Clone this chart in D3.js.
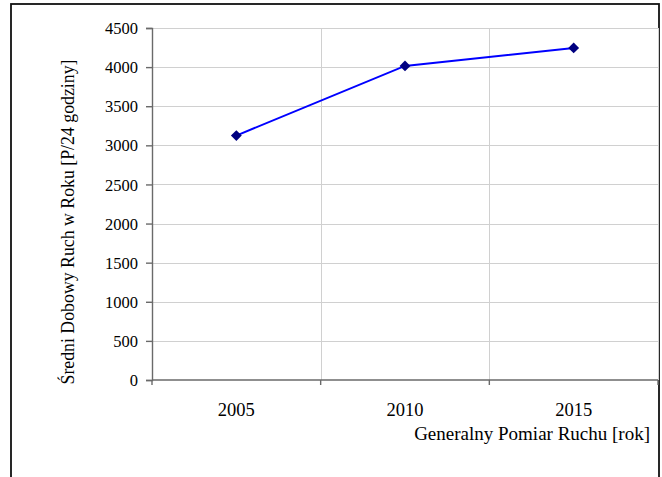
<!DOCTYPE html>
<html>
<head>
<meta charset="utf-8">
<script src="https://cdn.jsdelivr.net/npm/d3@7"></script>
<style>
  html, body { margin: 0; padding: 0; background: #fff; }
  svg { display: block; }
  text { font-family: "Liberation Serif", "Times New Roman", serif; fill: #000; }
</style>
</head>
<body>
<svg id="chart" width="662" height="477"></svg>
<script>
// Średni dobowy ruch per Generalny Pomiar Ruchu
const years = ["2005", "2010", "2015"];
const traffic = [3125, 4015, 4245];
const yTicks = [0, 500, 1000, 1500, 2000, 2500, 3000, 3500, 4000, 4500];

const svg = d3.select("#chart");
const plot = { left: 152, top: 28, right: 658, bottom: 380 };
const serif = "Liberation Serif, Times New Roman, serif";

// outer chart frame (bottom edge runs past the page)
svg.append("rect")
  .attr("x", 11).attr("y", 4)
  .attr("width", 648).attr("height", 490)
  .attr("fill", "#fff").attr("stroke", "#111").attr("stroke-width", 1.8);

const x = d3.scaleBand().domain(years).range([plot.left, plot.right]);
const y = d3.scaleLinear().domain([0, 4500]).range([plot.bottom, plot.top]);

// horizontal gridlines
svg.append("g")
  .selectAll("line").data(yTicks.slice(1)).join("line")
  .attr("x1", plot.left).attr("x2", plot.right)
  .attr("y1", d => Math.round(y(d)) + 0.5).attr("y2", d => Math.round(y(d)) + 0.5)
  .attr("stroke", "#d0d0d0").attr("stroke-width", 1);

// vertical gridlines at category boundaries
svg.append("g")
  .selectAll("line").data(years).join("line")
  .attr("x1", d => Math.round(x(d) + x.bandwidth()) + 0.5)
  .attr("x2", d => Math.round(x(d) + x.bandwidth()) + 0.5)
  .attr("y1", plot.top).attr("y2", plot.bottom)
  .attr("stroke", "#d0d0d0").attr("stroke-width", 1);

// y axis
const yAxis = svg.append("g")
  .attr("transform", `translate(${plot.left},0)`)
  .attr("font-family", serif)
  .call(d3.axisLeft(y).tickValues(yTicks).tickSize(6).tickPadding(8).tickFormat(d3.format("d")));
yAxis.selectAll("text").attr("font-size", 16.5).attr("dy", "0.34em");
yAxis.selectAll("line, path").attr("stroke", "#6a6a6a").attr("stroke-width", 1.4);

// x axis with ticks at band edges
const xAxisG = svg.append("g").attr("transform", `translate(0,${plot.bottom})`);
xAxisG.append("line")
  .attr("x1", plot.left).attr("x2", plot.right)
  .attr("y1", 0).attr("y2", 0)
  .attr("stroke", "#6a6a6a").attr("stroke-width", 1.6);
const edges = [x(years[0])].concat(years.map(d => x(d) + x.bandwidth()));
xAxisG.selectAll("line.tick").data(edges).join("line")
  .attr("class", "tick")
  .attr("x1", d => d).attr("x2", d => d)
  .attr("y1", 0).attr("y2", 5)
  .attr("stroke", "#6a6a6a").attr("stroke-width", 1.4);
xAxisG.selectAll("text").data(years).join("text")
  .attr("x", d => x(d) + x.bandwidth() / 2)
  .attr("y", 36)
  .attr("text-anchor", "middle")
  .attr("font-size", 18.5)
  .text(d => d);

// series line
const line = d3.line()
  .x((d, i) => x(years[i]) + x.bandwidth() / 2)
  .y(d => y(d));
svg.append("path")
  .datum(traffic)
  .attr("d", line)
  .attr("fill", "none")
  .attr("stroke", "#0000ff")
  .attr("stroke-width", 2);

// diamond markers
svg.append("g")
  .selectAll("path").data(traffic).join("path")
  .attr("transform", (d, i) => `translate(${x(years[i]) + x.bandwidth() / 2},${y(d)})`)
  .attr("d", d3.symbol().type(d3.symbolDiamond2).size(75))
  .attr("fill", "#000080");

// axis titles
svg.append("text")
  .attr("x", 650).attr("y", 440)
  .attr("text-anchor", "end")
  .attr("font-size", 19)
  .text("Generalny Pomiar Ruchu [rok]");

svg.append("text")
  .attr("transform", "translate(74,222) rotate(-90)")
  .attr("text-anchor", "middle")
  .attr("font-size", 17.8)
  .text("Średni Dobowy Ruch w Roku [P/24 godziny]");
</script>
</body>
</html>
